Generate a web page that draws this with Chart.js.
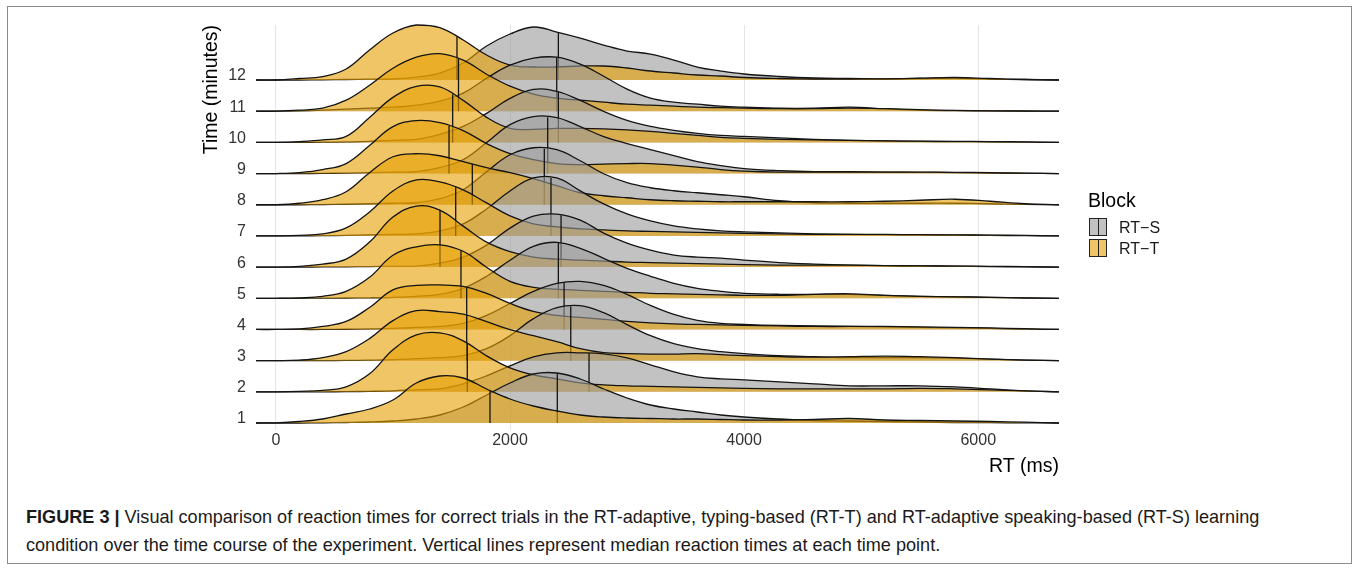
<!DOCTYPE html>
<html><head><meta charset="utf-8">
<script src="https://cdn.jsdelivr.net/npm/chart.js@4.4.1/dist/chart.umd.min.js"></script>
<style>
body{margin:0;background:#fff;}
#page{position:relative;width:1356px;height:569px;overflow:hidden;background:#fff;font-family:"Liberation Sans",Arial,Helvetica,sans-serif;}
#frame{position:absolute;left:7px;top:6px;width:1345px;height:558px;border:1px solid #8a8a8a;box-sizing:border-box;}
#c{position:absolute;left:0;top:0;}
#legend{position:absolute;left:1088px;top:188px;color:#000;}
#legend .ttl{position:absolute;left:0;top:0;font-size:19.5px;line-height:24px;white-space:nowrap;}
#legend .key{position:absolute;left:1px;width:18px;height:18px;box-sizing:border-box;border:1px solid #222;}
#legend .key:after{content:"";position:absolute;left:7.5px;top:0;width:1.3px;height:16px;background:#222;}
#legend .lab{position:absolute;left:31px;font-size:16px;line-height:20px;white-space:nowrap;color:#1a1a1a;}
#caption{position:absolute;left:26px;top:503px;font-size:18.1px;line-height:28px;color:#1a1a1a;white-space:nowrap;}
#caption b{font-weight:bold;}
</style></head><body>
<div id="page">
  <div id="frame"></div>
  <canvas id="c" width="1356" height="480"></canvas>
  <div id="legend">
    <div class="ttl">Block</div>
    <div class="key" style="top:30px;background:#c2c2c2;"></div><div class="lab" style="top:30px;">RT−S</div>
    <div class="key" style="top:51px;background:#f0c566;"></div><div class="lab" style="top:51px;">RT−T</div>
  </div>
  <div id="caption"><b>FIGURE 3 |</b> Visual comparison of reaction times for correct trials in the RT-adaptive, typing-based (RT-T) and RT-adaptive speaking-based (RT-S) learning<br>condition over the time course of the experiment. Vertical lines represent median reaction times at each time point.</div>
</div>
<script>
// ---- data ----
const timeLabels = ['1','2','3','4','5','6','7','8','9','10','11','12'];
const xTickValues = [0, 2000, 4000, 6000];
const blocks = ['RT−S', 'RT−T'];
// RT grid (ms) on which the density estimates are read
const rtGrid = [-170,0,200,400,600,800,1000,1200,1400,1600,1800,2000,2200,2400,2600,2800,3000,3200,3400,3600,3800,4000,4300,4600,4900,5200,5500,5800,6100,6400,6690];
// scaled densities (one ridge step = 31.18)
const rtT1  = [0,0.2,1.5,4,9,14,23,40,47,45,34,24,17,12,8,6,5,4.5,4,4,3.5,3,3,3.5,4.5,3,2.5,2,1.5,0.8,0];
const rtT2  = [0,0,0.5,1.5,5,18,42,57,59,51,36,24,17,13,9,7,6,5.5,5,4.5,4,3.5,3,3,3,3,3.5,3,2,1,0];
const rtT3  = [0,0,0.5,3,9,22,40,50,49,46.5,39,31,25,19,12,8,7,6.5,6.5,7,6,5,4,3.5,4,4.5,4,3,1.5,0.5,0];
const rtT4  = [0,0,0.5,3,8,22,39.5,44,44.5,43,36,26,18,14,12,10,8,6.5,5.5,5,4.5,4,3.5,3,3,3,2.5,2,1.5,0.8,0];
const rtT5  = [0,0,0.5,2,7,21,43,51.5,53.5,47,31,17,11,9,8,7,6,5,4.5,4,3.5,3,3,4,4.5,3,2,1.5,1,0.5,0];
const rtT6  = [0,0,0.8,3,8,25,50,61,57,41,25,15.5,10,8,7,6,5,4.5,4,3.5,3,2.5,2,2,2,1.5,1.2,1,0.8,0.5,0];
const rtT7  = [0,0,0.5,2,8,24,45,56,54,46,33,20,12,9,7,6,5,4.5,4,3.5,3,2.5,2,1.5,1.5,1.5,1.2,1,0.8,0.5,0];
const rtT8  = [0,0,1.5,5,13,32,48,51,49,43,37,32,26,19,12,9,7,5,4,3.5,3,3,3,3,3,3.5,4.5,5.5,3.5,1,0];
const rtT9  = [0,0,1,4,10,28,47,53,51,43,30,20,14,10,9,9.5,10,10,8.5,6.5,4,2.5,1.5,1.5,1.5,1.5,1.5,1.2,1,0.5,0];
const rtT10 = [0,0,0.8,2.5,6,25,45,56,55.5,42,25,14,13,14,14,13.5,12.5,11,9,7,5,4,3,2.5,2,1.5,1.2,1,0.8,0.5,0];
const rtT11 = [0,0,1,3,11,26,43,54,57.5,51,37,25,17,13,11,9,7,6,5,4,3.5,3,2.5,2.5,3,2.5,1.5,0.8,0.4,0.2,0];
const rtT12 = [0,0,1.5,3.5,11,30,47,55,52.5,40,25,15,13,13,14,14,12,9,7,5,4,2.5,1.5,1,1,1.2,1.8,2.5,1.5,0.5,0];
const rtS1  = [0,0,0,0.2,0.5,1,2,4,8,16,28,40,49,50,44,34,25,18,14,11,8,6,4,2.5,2,1.5,1,0.5,0.3,0.1,0];
const rtS2  = [0,0,0,0,0.2,0.5,1,2,3,8,16,26,35,39,39,38,34,27,20,15,13,12,10,8,6,6,6,5,3,1,0];
const rtS3  = [0,0,0,0,0.2,0.5,1,2,3,5,12,25,42,53,55,48,36,25,17,12,9,7,5,4,3,3,3,2.5,1.5,0.5,0];
const rtS4  = [0,0,0,0,0.2,0.5,1,2,3,6,14,26,38,46,48,44,35,24,15,9,6,5,4,3.5,3,2.5,2,1.5,1,0.3,0];
const rtS5  = [0,0,0,0.2,0.3,0.5,1,2,4,10,22,38,52,56,50,40,30,22,15,10,7,5,4,4,4,3,2,1.5,1,0.3,0];
const rtS6  = [0,0,0,0.2,0.3,0.5,0.8,1,4,10,22,39,51,53,47,34,24,17,12,10,9,7,4.5,3,2,1.5,1.2,1,0.5,0.2,0];
const rtS7  = [0,0,0,0.2,0.5,1,1.5,2,5,12,27,45,58,58,45,32,22,15,10,7,5,4,3,2,1.5,1.2,1,0.8,0.5,0.2,0];
const rtS8  = [0,0,0,0.2,0.5,1,1.5,2,6,15,33,50,57,55,44,31,22,17,14,12,10,8,4,2,1.5,1.5,1.5,1.5,1,0.3,0];
const rtS9  = [0,0,0,0.2,0.5,1,1.5,2,6,14,31,49,57,56,47,37,30,24,18,12,8,5,3,2,2,1.5,1.2,1,0.5,0.2,0];
const rtS10 = [0,0,0,0.2,0.5,1,2,3,8,16,29,44,53,51,42,31,22,16,12,9,7,6,4.5,3,2,1.5,1,0.8,0.5,0.2,0];
const rtS11 = [0,0,0.3,1,2,3,4,6,10,18,33,46,53,54,47,35,22,13,9,7,5,4,3,3,4,2.5,1,0.5,0.3,0.1,0];
const rtS12 = [0,0,0,0.2,0.5,0.8,1,3,7,17,34,46,53,48,42,35,29,26,20,13,9,6,3.5,2,1.5,1,1.5,2,1,0.5,0];
// median RTs (ms) per time point 1..12
const medianT = [1829,1635,1630,1630,1581,1402,1536,1678,1479,1510,1560,1547];
const medianS = [2404,2675,2519,2462,2413,2436,2350,2293,2322,2413,2399,2413];

const densT = [rtT1,rtT2,rtT3,rtT4,rtT5,rtT6,rtT7,rtT8,rtT9,rtT10,rtT11,rtT12];
const densS = [rtS1,rtS2,rtS3,rtS4,rtS5,rtS6,rtS7,rtS8,rtS9,rtS10,rtS11,rtS12];

const STEP = 31.18;
const FONT = '"Liberation Sans", Arial, Helvetica, sans-serif';
const fillCol = {'RT−S':'rgba(153,153,153,0.6)','RT−T':'rgba(230,159,0,0.6)'};
const lineCol = '#141414';

function densAt(dens, m){
  for(let i=0;i<rtGrid.length-1;i++){
    if(m>=rtGrid[i] && m<=rtGrid[i+1]){
      const f=(m-rtGrid[i])/(rtGrid[i+1]-rtGrid[i]);
      return dens[i]+(dens[i+1]-dens[i])*f;
    }
  }
  return 0;
}

const datasets=[];
let k=0;
for(let t=12;t>=1;t--){
  const base=(t-1)*STEP;
  [['RT−S',densS[t-1],medianS[t-1]],['RT−T',densT[t-1],medianT[t-1]]].forEach(([blk,dens,med])=>{
    datasets.push({
      label: blk+' '+timeLabels[t-1],
      data: rtGrid.map((x,i)=>({x:x,y:base+dens[i]})),
      borderColor: lineCol, borderWidth:1.3, backgroundColor: fillCol[blk],
      fill:{value:base}, pointRadius:0, tension:0.4,
      borderJoinStyle:'round', clip:false, order:1000-(k++)
    });
    datasets.push({
      label: blk+' median '+timeLabels[t-1],
      data:[{x:med,y:base},{x:med,y:base+densAt(dens,med)}],
      borderColor: lineCol, borderWidth:1.3, pointRadius:0, fill:false, clip:false,
      order:1000-(k++)
    });
  });
}

new Chart(document.getElementById('c'),{
  type:'line',
  data:{datasets},
  options:{
    responsive:false, animation:false, events:[],
    layout:{padding:{left:200,right:297,top:25,bottom:0}},
    plugins:{legend:{display:false},tooltip:{enabled:false},filler:{propagate:false}},
    scales:{
      x:{type:'linear',min:-170,max:6690,
        grid:{color:'#e4e4e4',lineWidth:1,drawTicks:false},border:{display:false},
        afterBuildTicks:s=>{s.ticks=xTickValues.map(v=>({value:v}));},
        ticks:{padding:1,color:'#333',font:{size:16,family:FONT},maxRotation:0,autoSkip:false,callback:v=>String(v)},
        title:{display:true,text:'RT (ms)',align:'end',color:'#000',font:{size:19.5,family:FONT},padding:{top:0,bottom:2}},
        afterFit:s=>{s.height=50;}
      },
      y:{type:'linear',min:-7,max:398,
        grid:{display:false,drawTicks:false},border:{display:false},
        afterBuildTicks:s=>{s.ticks=timeLabels.map((l,i)=>({value:i*STEP}));},
        ticks:{padding:10,labelOffset:-4,color:'#333',font:{size:16,family:FONT},autoSkip:false,callback:(v,i)=>timeLabels[i]},
        title:{display:true,text:'Time (minutes)',align:'end',color:'#000',font:{size:19.5,family:FONT},padding:{top:0,bottom:0}},
        afterFit:s=>{s.width=56;}
      }
    }
  }
});
</script>
</body></html>
